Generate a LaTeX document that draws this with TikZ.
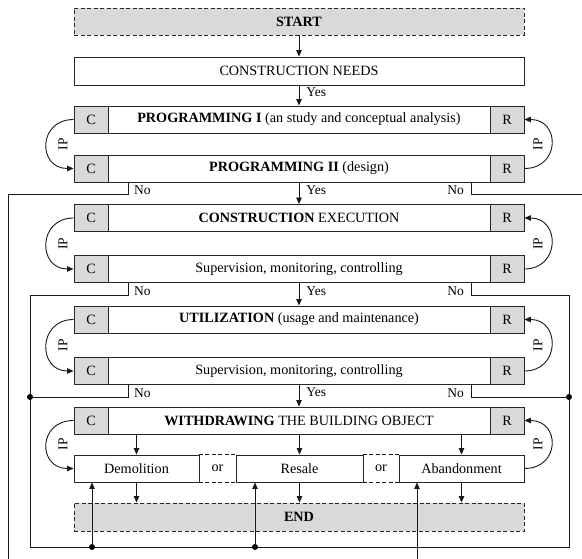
\documentclass[tikz,border=0pt]{standalone}
\usepackage{fontspec}
\setmainfont{Liberation Serif}
\usetikzlibrary{arrows.meta}
\begin{document}
\begin{tikzpicture}[x=1pt,y=-1pt,
  every node/.style={font=\fontsize{14.2}{16}\selectfont, inner sep=0pt},
  bx/.style={draw=black!85, line width=0.9pt, rectangle, minimum height=27pt},
  gr/.style={fill=black!15},
  wide/.style={bx, minimum width=450pt},
  mid/.style={bx, minimum width=382pt},
  sq/.style={bx, gr, minimum width=34pt},
  dsh/.style={dash pattern=on 4pt off 2.5pt},
  ln/.style={draw=black!90, line width=0.9pt},
  arr/.style={ln, -{Triangle[length=6.5pt,width=5.5pt]}},
  dot/.style={circle, fill=black, minimum size=6pt},
  lbl/.style={font=\fontsize{13.5}{15}\selectfont},
]
\useasboundingbox (0,0) rectangle (582,559);

% main boxes
\node[wide, gr, dsh] (start) at (299,21.5) {\textbf{START}};
\node[wide, minimum height=28pt] (cn) at (299,71) {CONSTRUCTION NEEDS};

\node[mid] (p1) at (299,119.5) {\textbf{PROGRAMMING I} (an study and conceptual analysis)};
\node[sq] (c1) at (91,119.5) {C};
\node[sq] (r1) at (507,119.5) {R};
\node[mid] (p2) at (299,168.5) {\textbf{PROGRAMMING II} (design)};
\node[sq] (c2) at (91,168.5) {C};
\node[sq] (r2) at (507,168.5) {R};

\node[mid] (ce) at (299,218) {\textbf{CONSTRUCTION} EXECUTION};
\node[sq] (c3) at (91,218) {C};
\node[sq] (r3) at (507,218) {R};
\node[mid] (ces) at (299,269) {Supervision, monitoring, controlling};
\node[sq] (c4) at (91,269) {C};
\node[sq] (r4) at (507,269) {R};

\node[mid] (u) at (299,319.5) {\textbf{UTILIZATION} (usage and maintenance)};
\node[sq] (c5) at (91,319.5) {C};
\node[sq] (r5) at (507,319.5) {R};
\node[mid] (us) at (299,371) {Supervision, monitoring, controlling};
\node[sq] (c6) at (91,371) {C};
\node[sq] (r6) at (507,371) {R};

\node[mid] (w) at (299,420.5) {\textbf{WITHDRAWING} THE BUILDING OBJECT};
\node[sq] (c7) at (91,420.5) {C};
\node[sq] (r7) at (507,420.5) {R};

\node[bx, minimum width=125pt] (dem) at (136.5,468.5) {Demolition};
\node[minimum width=37pt, minimum height=27pt] (or1) at (217.5,468.5) {or};
\node[bx, minimum width=127pt] (res) at (299.5,468.5) {Resale};
\node[minimum width=36pt, minimum height=27pt] (or2) at (381,468.5) {or};
\node[bx, minimum width=125pt] (ab) at (461.5,468.5) {Abandonment};
\draw[ln, dsh] (or1.north west) -- (or1.north east) (or1.south west) -- (or1.south east);
\draw[ln, dsh] (or2.north west) -- (or2.north east) (or2.south west) -- (or2.south east);

\node[wide, gr, dsh, minimum height=28pt] (end) at (299,517) {\textbf{END}};

% main flow
\draw[arr] (start) -- (cn);
\draw[arr] (cn) -- node[lbl, pos=0.33, right=7pt] {Yes} (p1);
\draw[arr] (p2) -- node[lbl, pos=0.35, right=7pt] {Yes} (ce);
\draw[arr] (ces) -- node[lbl, pos=0.35, right=7pt] {Yes} (u);
\draw[arr] (us) -- node[lbl, pos=0.35, right=7pt] {Yes} (w);

\draw[arr] (w.south -| dem) -- (dem);
\draw[arr] (w.south -| res) -- (res);
\draw[arr] (w.south -| ab) -- (ab);
\draw[arr] (dem) -- (dem |- end.north);
\draw[arr] (res) -- (res |- end.north);
\draw[arr] (ab) -- (ab |- end.north);

% IP loops
\foreach \a/\b in {c1/c2, c3/c4, c5/c6, c7/dem}{
  \draw[arr] (\a.west) .. controls +(-36,0) and +(-36,0) .. (\b.west);
}
\foreach \a/\b in {r2/r1, r4/r3, r6/r5, ab/r7}{
  \draw[arr] (\a.east) .. controls +(36,0) and +(36,0) .. (\b.east);
}
\node[lbl, rotate=90] (ip1) at (63,144) {IP};
\node[lbl, rotate=90] (ip2) at (538,144) {IP};
\node[lbl, rotate=90] (ip3) at (63,243.5) {IP};
\node[lbl, rotate=90] (ip4) at (538,243.5) {IP};
\node[lbl, rotate=90] (ip5) at (63,345) {IP};
\node[lbl, rotate=90] (ip6) at (538,345) {IP};
\node[lbl, rotate=90] (ip7) at (63,444) {IP};
\node[lbl, rotate=90] (ip8) at (538,444) {IP};

% "No" feedback lines
\coordinate (a1) at (128,194);
\coordinate (a2) at (8,194);
\coordinate (a3) at (8,559);
\draw[ln] (p2.south -| a1) -- (a1) -- (a2) -- (a3);
\node[lbl, anchor=west] (no1) at (134,190) {No};
\coordinate (b1) at (471,194);
\coordinate (b2) at (582,194);
\draw[ln] (p2.south -| b1) -- (b1) -- (b2);
\node[lbl, anchor=east] (no2) at (464,190) {No};

\coordinate (d1) at (128,295);
\coordinate (d2) at (30,295);
\coordinate (d3) at (30,547);
\coordinate (d4) at (569,547);
\coordinate (d5) at (569,295);
\coordinate (d6) at (471,295);
\draw[ln] (ces.south -| d1) -- (d1) -- (d2) -- (d3) -- (d4) -- (d5) -- (d6) -- (ces.south -| d6);
\node[lbl, anchor=west] (no3) at (134,291) {No};
\node[lbl, anchor=east] (no4) at (464,291) {No};

\coordinate (e1) at (128,397);
\node[dot] (e2) at (30,397) {};
\coordinate (e3) at (471,397);
\node[dot] (e4) at (569,397) {};
\draw[ln] (us.south -| e1) -- (e1) -- (e2.center);
\draw[ln] (us.south -| e3) -- (e3) -- (e4.center);
\node[lbl, anchor=west] (no5) at (134,393) {No};
\node[lbl, anchor=east] (no6) at (464,393) {No};

% returns to withdrawal options
\node[dot] (f1) at (92,547) {};
\node[dot] (f2) at (255,547) {};
\coordinate (f3) at (417,559);
\draw[arr] (f1.center) -- (f1 |- dem.south);
\draw[arr] (f2.center) -- (f2 |- res.south);
\draw[arr] (f3) -- (f3 |- ab.south);
\end{tikzpicture}
\end{document}
